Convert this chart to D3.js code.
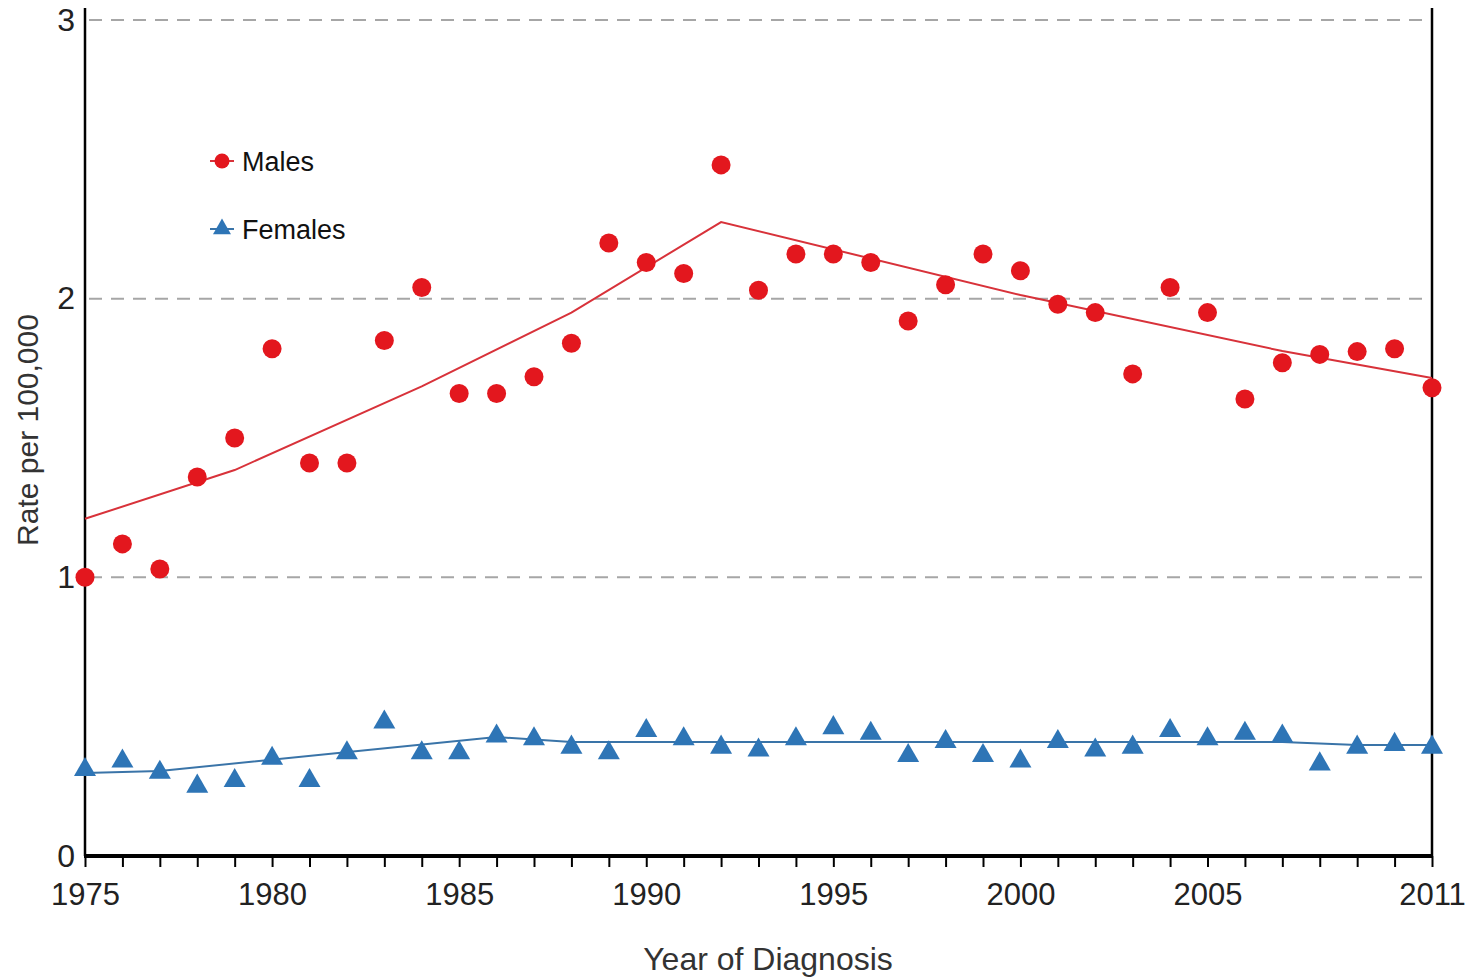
<!DOCTYPE html>
<html>
<head>
<meta charset="utf-8">
<script src="https://cdnjs.cloudflare.com/ajax/libs/d3/7.8.5/d3.min.js"></script>
<style>
  body { margin: 0; background: #fff; }
  text { font-family: "Liberation Sans", Arial, sans-serif; }
</style>
</head>
<body>
<svg id="chart" width="1480" height="980"></svg>
<script>
'use strict'
// observed rates per 100,000
var years = d3.range(1975, 2012);
var males = [1.00, 1.12, 1.03, 1.36, 1.50, 1.82, 1.41, 1.41, 1.85, 2.04,
             1.66, 1.66, 1.72, 1.84, 2.20, 2.13, 2.09, 2.48, 2.03, 2.16,
             2.16, 2.13, 1.92, 2.05, 2.16, 2.10, 1.98, 1.95, 1.73, 2.04,
             1.95, 1.64, 1.77, 1.80, 1.81, 1.82, 1.68];
var females = [0.31, 0.34, 0.30, 0.25, 0.27, 0.35, 0.27, 0.37, 0.48, 0.37,
               0.37, 0.43, 0.42, 0.39, 0.37, 0.45, 0.42, 0.39, 0.38, 0.42,
               0.46, 0.44, 0.36, 0.41, 0.36, 0.34, 0.41, 0.38, 0.39, 0.45,
               0.42, 0.44, 0.43, 0.33, 0.39, 0.40, 0.39];
// trend lines (joinpoints)
var maleTrendYears = [1975, 1979, 1984, 1988, 1992, 2000, 2007, 2011];
var maleTrend = [1.21, 1.385, 1.685, 1.95, 2.275, 2.013, 1.812, 1.715];
var femaleTrendYears = [1975, 1977, 1986, 1988, 2007, 2009, 2011];
var femaleTrend = [0.298, 0.305, 0.427, 0.409, 0.409, 0.398, 0.398];
var xTickLabels = [1975, 1980, 1985, 1990, 1995, 2000, 2005, 2011];
var yTicks = [0, 1, 2, 3];

var red = "#e3171e", redLine = "#d8323a";
var blue = "#2e75b6", blueLine = "#3a74a8";

var svg = d3.select("#chart");
var x = d3.scaleLinear().domain([1975, 2011]).range([85, 1432]);
var y = d3.scaleLinear().domain([0, 3]).range([856, 20]);

//网格线
svg.append("g").selectAll("line")
    .data(yTicks.filter(function (d) { return d > 0; }))
    .enter().append("line")
    .attr("x1", x(1975) + 4).attr("x2", x(2011))
    .attr("y1", function (d) { return y(d); })
    .attr("y2", function (d) { return y(d); })
    .attr("stroke", "#a6a6a6")
    .attr("stroke-width", 2)
    .attr("stroke-dasharray", "13,9");

// x axis
var xAxis = d3.axisBottom(x)
    .tickValues(years)
    .tickSize(11)
    .tickFormat(function (d) { return xTickLabels.indexOf(d) >= 0 ? d : ""; });
var gx = svg.append("g").attr("transform", "translate(0," + y(0) + ")").call(xAxis);
gx.select(".domain").remove();
gx.selectAll(".tick line").attr("stroke", "#000").attr("stroke-width", 2);
gx.selectAll(".tick text")
    .attr("y", 27)
    .attr("font-size", 31)
    .attr("fill", "#222");
gx.append("line")
    .attr("x1", x(1975) - 1).attr("x2", x(2011) + 1)
    .attr("y1", 0).attr("y2", 0)
    .attr("stroke", "#000").attr("stroke-width", 4);

// y axis
var yAxis = d3.axisLeft(y).tickValues(yTicks).tickSize(0).tickPadding(10)
    .tickFormat(d3.format("d"));
var gy = svg.append("g").attr("transform", "translate(" + x(1975) + ",0)").call(yAxis);
gy.select(".domain").remove();
gy.selectAll(".tick text").attr("font-size", 32).attr("fill", "#222");
svg.append("line")
    .attr("x1", x(1975)).attr("x2", x(1975))
    .attr("y1", 8).attr("y2", y(0))
    .attr("stroke", "#000").attr("stroke-width", 2.5);
svg.append("line")
    .attr("x1", x(2011)).attr("x2", x(2011))
    .attr("y1", 8).attr("y2", y(0))
    .attr("stroke", "#000").attr("stroke-width", 2.5);

// axis titles
svg.append("text")
    .attr("x", 768).attr("y", 970)
    .attr("text-anchor", "middle")
    .attr("font-size", 32)
    .attr("fill", "#333")
    .text("Year of Diagnosis");
svg.append("text")
    .attr("transform", "translate(38,430) rotate(-90)")
    .attr("text-anchor", "middle")
    .attr("font-size", 30)
    .attr("fill", "#333")
    .text("Rate per 100,000");

// trend lines
var line = d3.line()
    .x(function (d) { return x(d[0]); })
    .y(function (d) { return y(d[1]); });
svg.append("path")
    .attr("d", line(d3.zip(maleTrendYears, maleTrend)))
    .attr("fill", "none").attr("stroke", redLine).attr("stroke-width", 2);
svg.append("path")
    .attr("d", line(d3.zip(femaleTrendYears, femaleTrend)))
    .attr("fill", "none").attr("stroke", blueLine).attr("stroke-width", 2);

// markers
var tri = d3.symbol().type(d3.symbolTriangle).size(210);
svg.append("g").selectAll("path")
    .data(d3.zip(years, females))
    .enter().append("path")
    .attr("d", tri)
    .attr("transform", function (d) { return "translate(" + x(d[0]) + "," + y(d[1]) + ")"; })
    .attr("fill", blue);
svg.append("g").selectAll("circle")
    .data(d3.zip(years, males))
    .enter().append("circle")
    .attr("cx", function (d) { return x(d[0]); })
    .attr("cy", function (d) { return y(d[1]); })
    .attr("r", 9.5)
    .attr("fill", red);

// legend
var legend = [
    { name: "Males", color: red, lineColor: redLine, shape: "circle", y: 161 },
    { name: "Females", color: blue, lineColor: blueLine, shape: "triangle", y: 229 }
];
var lg = svg.append("g").selectAll("g").data(legend).enter().append("g")
    .attr("transform", function (d) { return "translate(222," + d.y + ")"; });
lg.append("line")
    .attr("x1", -12).attr("x2", 12)
    .attr("stroke", function (d) { return d.lineColor; })
    .attr("stroke-width", 2);
lg.each(function (d) {
    var g = d3.select(this);
    if (d.shape === "circle") {
        g.append("circle").attr("r", 7.5).attr("fill", d.color);
    } else {
        g.append("path").attr("d", d3.symbol().type(d3.symbolTriangle).size(140)).attr("fill", d.color);
    }
});
lg.append("text")
    .attr("x", 20).attr("dy", "0.36em")
    .attr("font-size", 27)
    .attr("fill", "#111")
    .text(function (d) { return d.name; });
</script>
</body>
</html>
